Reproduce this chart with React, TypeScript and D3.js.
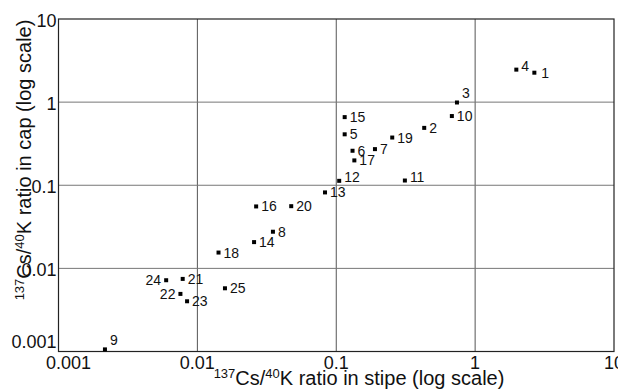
import * as d3 from 'd3';

// sample ids and 137Cs/40K ratios (stipe, cap)
const ids = [1, 2, 3, 4, 5, 6, 7, 8, 9, 10, 11, 12, 13, 14, 15, 16, 17, 18, 19, 20, 21, 22, 23, 24, 25];
const stipe = [2.67, 0.43, 0.74, 1.98, 0.115, 0.131, 0.19, 0.035, 0.00216, 0.68, 0.312, 0.105, 0.083, 0.0256, 0.115, 0.0265, 0.135, 0.0142, 0.253, 0.0474, 0.00784, 0.00755, 0.00843, 0.00596, 0.0158];
const cap = [2.26, 0.49, 0.99, 2.46, 0.41, 0.26, 0.272, 0.0276, 0.00106, 0.68, 0.114, 0.113, 0.082, 0.0207, 0.66, 0.0556, 0.199, 0.0155, 0.375, 0.056, 0.00747, 0.00493, 0.00402, 0.0072, 0.00576];

const ticks = [0.001, 0.01, 0.1, 1, 10];
const tickLabels = ['0.001', '0.01', '0.1', '1', '10'];

// where the number sits next to its marker
const leftOf = new Set([22, 24]);
const above = new Set([3, 9]);
const raised = new Set([4, 11, 12]);

const W = 618;
const H = 390;
const font = 'Liberation Sans, Arial, sans-serif';

export default function App() {
  const x = d3.scaleLog().domain([0.001, 10]).range([58.5, 614]);
  const y = d3.scaleLog().domain([0.001, 10]).range([351.5, 19]);

  const pts = ids.map((id, i) => ({ id, sx: stipe[i], cy: cap[i] }));

  return (
    <svg width={W} height={H} style={{ position: 'absolute', left: 0, top: 0, background: '#fff' }} fontFamily={font}>
      {/* grid */}
      {ticks.slice(1, -1).map(t => (
        <line key={'v' + t} x1={x(t)} x2={x(t)} y1={y(10)} y2={y(0.001)} stroke="#555" strokeWidth={1} />
      ))}
      {ticks.slice(1, -1).map(t => (
        <line key={'h' + t} x1={x(0.001)} x2={x(10)} y1={y(t)} y2={y(t)} stroke="#777" strokeWidth={1} />
      ))}
      <rect x={x(0.001)} y={y(10)} width={x(10) - x(0.001)} height={y(0.001) - y(10)} fill="none" stroke="#222" strokeWidth={1.2} />

      {/* y ticks */}
      {ticks.map((t, i) => (
        <text key={'yt' + t} x={x(0.001) - 2} y={y(t)} dy={t === 0.001 ? -4 : 8} textAnchor="end" fontSize={18} fill="#111">
          {tickLabels[i]}
        </text>
      ))}
      {/* x ticks */}
      {ticks.map((t, i) => (
        <text key={'xt' + t} x={x(t)} y={369} dx={t === 0.001 ? 10 : 0} textAnchor="middle" fontSize={18} fill="#111">
          {tickLabels[i]}
        </text>
      ))}

      {/* points */}
      {pts.map(p => (
        <rect key={'p' + p.id} x={x(p.sx) - 2} y={y(p.cy) - 2} width={4} height={4} fill="#000" />
      ))}
      {pts.map(p => {
        const px = x(p.sx);
        const py = y(p.cy);
        const left = leftOf.has(p.id);
        const dy = above.has(p.id) ? -4 : raised.has(p.id) ? 1 : 5;
        return (
          <text
            key={'l' + p.id}
            x={left ? px - 5 : px + (p.id === 1 ? 7 : 5)}
            y={py + dy}
            textAnchor={left ? 'end' : 'start'}
            fontSize={14}
            fill="#111"
          >
            {p.id}
          </text>
        );
      })}

      {/* axis titles */}
      <text x={359} y={385} textAnchor="middle" fontSize={20} fill="#111">
        <tspan fontSize={13} dy={-7}>137</tspan>
        <tspan dy={7}>Cs/</tspan>
        <tspan fontSize={13} dy={-7}>40</tspan>
        <tspan dy={7}>K ratio in stipe (log scale)</tspan>
      </text>
      <text transform="translate(31,160) rotate(-90)" textAnchor="middle" fontSize={20} fill="#111">
        <tspan fontSize={13} dy={-7}>137</tspan>
        <tspan dy={7}>Cs/</tspan>
        <tspan fontSize={13} dy={-7}>40</tspan>
        <tspan dy={7}>K ratio in cap (log scale)</tspan>
      </text>
    </svg>
  );
}
